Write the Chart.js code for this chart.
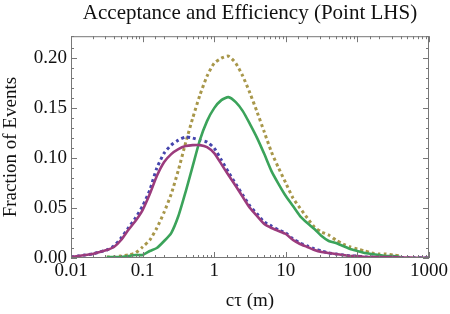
<!DOCTYPE html>
<html>
<head>
<meta charset="utf-8">
<script src="https://cdn.jsdelivr.net/npm/chart.js@4/dist/chart.umd.min.js"></script>
<style>
  html, body { margin: 0; padding: 0; background: #fff; }
  #wrap { width: 450px; height: 314px; }
</style>
</head>
<body>
<div id="wrap"><canvas id="accChart" width="450" height="314"></canvas></div>
<script>
// c*tau grid (m), log-spaced
const ctau = [0.01, 0.0126, 0.0158, 0.02, 0.0251, 0.0316, 0.0398, 0.0501, 0.0631, 0.0794,
  0.1, 0.126, 0.158, 0.2, 0.251, 0.316, 0.398, 0.501, 0.631, 0.794,
  1, 1.26, 1.58, 2, 2.51, 3.16, 3.98, 5.01, 6.31, 7.94,
  10, 12.6, 15.8, 20, 25.1, 31.6, 39.8, 50.1, 63.1, 79.4,
  100, 126, 158, 200, 251, 316, 398, 501, 631, 794, 1000];

// Series values (fraction of events)
const purple = [0.001, 0.002, 0.003, 0.004, 0.006, 0.008, 0.011, 0.018, 0.028, 0.037,
  0.048, 0.064, 0.082, 0.096, 0.104, 0.109, 0.112, 0.113, 0.113, 0.111,
  0.105, 0.094, 0.083, 0.072, 0.061, 0.050, 0.042, 0.034, 0.030, 0.027,
  0.024, 0.018, 0.014, 0.011, 0.008, 0.006, 0.005, 0.004, 0.003, 0.002,
  0.002, 0.001, 0.001, 0.001, 0.001, 0.001, 0.0005, 0.0005, 0.0003, 0.0002, 0.0001];

const blue = [0.001, 0.002, 0.003, 0.004, 0.006, 0.008, 0.012, 0.020, 0.030, 0.040,
  0.052, 0.068, 0.090, 0.105, 0.113, 0.118, 0.121, 0.120, 0.118, 0.116,
  0.110, 0.098, 0.086, 0.074, 0.063, 0.052, 0.044, 0.036, 0.032, 0.028,
  0.025, 0.019, 0.015, 0.012, 0.009, 0.007, 0.005, 0.004, 0.003, 0.002,
  0.002, 0.001, 0.001, 0.001, 0.001, 0.001, 0.0005, 0.0005, 0.0003, 0.0002, 0.0001];

const green = [null, null, null, null, null, 0.001, 0.001, 0.001, 0.002, 0.003,
  0.003, 0.007, 0.010, 0.017, 0.025, 0.042, 0.066, 0.092, 0.118, 0.137,
  0.150, 0.158, 0.161, 0.156, 0.147, 0.134, 0.120, 0.104, 0.087, 0.074,
  0.062, 0.052, 0.042, 0.035, 0.029, 0.022, 0.017, 0.015, 0.012, 0.009,
  0.007, 0.005, 0.004, 0.003, 0.002, 0.002, 0.001, null, null, null, null];

const olive = [null, null, null, null, null, 0.001, 0.001, 0.002, 0.003, 0.005,
  0.011, 0.018, 0.030, 0.046, 0.064, 0.088, 0.115, 0.140, 0.163, 0.182,
  0.195, 0.200, 0.202, 0.195, 0.182, 0.165, 0.146, 0.126, 0.106, 0.090,
  0.075, 0.060, 0.050, 0.040, 0.031, 0.026, 0.023, 0.018, 0.014, 0.011,
  0.009, 0.007, 0.005, 0.004, 0.004, 0.003, 0.002, null, null, null, null];

const yTickLabels = ["0.00", "0.05", "0.10", "0.15", "0.20"];
const xTickLabels = ["0.01", "0.1", "1", "10", "100", "1000"];

const serif = "'Liberation Serif', 'DejaVu Serif', serif";

function pts(ys) {
  return ctau.map((x, i) => ({ x: x, y: ys[i] }));
}

function isDecade(v) {
  const l = Math.log10(v);
  return Math.abs(l - Math.round(l)) < 1e-6;
}

// frame with inward ticks on all four sides
const framePlugin = {
  id: "frame",
  afterDraw(chart) {
    const ctx = chart.ctx;
    const a = chart.chartArea;
    const xs = chart.scales.x;
    const ys = chart.scales.y;
    ctx.save();
    ctx.strokeStyle = "#777";
    ctx.lineWidth = 1;
    ctx.strokeRect(a.left + 0.5, a.top + 0.5, a.right - a.left - 1, a.bottom - a.top - 1);
    ctx.beginPath();
    xs.ticks.forEach(t => {
      if (t.value < xs.min || t.value > xs.max) return;
      const px = Math.round(xs.getPixelForValue(t.value)) + 0.5;
      const len = isDecade(t.value) ? 6 : 3;
      ctx.moveTo(px, a.bottom);
      ctx.lineTo(px, a.bottom - len);
      ctx.moveTo(px, a.top);
      ctx.lineTo(px, a.top + len);
    });
    ys.ticks.forEach(t => {
      const py = Math.round(ys.getPixelForValue(t.value)) + 0.5;
      const major = Math.abs(t.value / 0.05 - Math.round(t.value / 0.05)) < 1e-6;
      const len = major ? 6 : 3;
      ctx.moveTo(a.left, py);
      ctx.lineTo(a.left + len, py);
      ctx.moveTo(a.right, py);
      ctx.lineTo(a.right - len, py);
    });
    ctx.stroke();
    ctx.restore();
  }
};

const ctx = document.getElementById("accChart").getContext("2d");
new Chart(ctx, {
  type: "line",
  data: {
    datasets: [
      {
        label: "purple",
        data: pts(purple),
        borderColor: "#9b3b7d",
        borderWidth: 2.6,
        pointRadius: 0,
        tension: 0.2
      },
      {
        label: "green",
        data: pts(green),
        borderColor: "#3ba35a",
        borderWidth: 2.6,
        pointRadius: 0,
        tension: 0.2
      },
      {
        label: "blue",
        data: pts(blue),
        borderColor: "#4545ad",
        borderWidth: 3,
        borderDash: [3, 3],
        pointRadius: 0,
        tension: 0.2
      },
      {
        label: "olive",
        data: pts(olive),
        borderColor: "#a8974a",
        borderWidth: 3,
        borderDash: [3, 3],
        pointRadius: 0,
        tension: 0.2
      }
    ]
  },
  options: {
    responsive: false,
    animation: false,
    spanGaps: false,
    layout: { padding: { left: 0, right: 20, top: 0, bottom: 0 } },
    plugins: {
      legend: { display: false },
      tooltip: { enabled: false },
      title: {
        display: true,
        fullSize: false,
        text: "Acceptance and Efficiency (Point LHS)",
        color: "#111",
        font: { family: serif, size: 21, weight: "normal" },
        padding: { top: 1, bottom: 10 }
      }
    },
    scales: {
      x: {
        type: "logarithmic",
        min: 0.01,
        max: 1000,
        grid: { display: false, drawTicks: false },
        border: { display: false },
        afterFit(scale) { scale.height = 56; },
        ticks: {
          autoSkip: false,
          maxRotation: 0,
          padding: 2,
          color: "#111",
          font: { family: serif, size: 19 },
          callback: v => (isDecade(v) ? xTickLabels[Math.round(Math.log10(v)) + 2] : "")
        },
        title: {
          display: true,
          text: "cτ (m)",
          color: "#111",
          font: { family: serif, size: 19 },
          padding: { top: 0, bottom: 2 }
        }
      },
      y: {
        min: 0,
        max: 0.222,
        grid: { display: false, drawTicks: false },
        border: { display: false },
        afterFit(scale) { scale.width = 71; },
        ticks: {
          stepSize: 0.01,
          autoSkip: false,
          padding: 4,
          color: "#111",
          font: { family: serif, size: 19 },
          callback: v => {
            const k = v / 0.05;
            return Math.abs(k - Math.round(k)) < 1e-6 ? yTickLabels[Math.round(k)] : "";
          }
        },
        title: {
          display: true,
          text: "Fraction of Events",
          color: "#111",
          font: { family: serif, size: 19 },
          padding: { top: 0, bottom: 0 }
        }
      }
    }
  },
  plugins: [framePlugin]
});
</script>
</body>
</html>
